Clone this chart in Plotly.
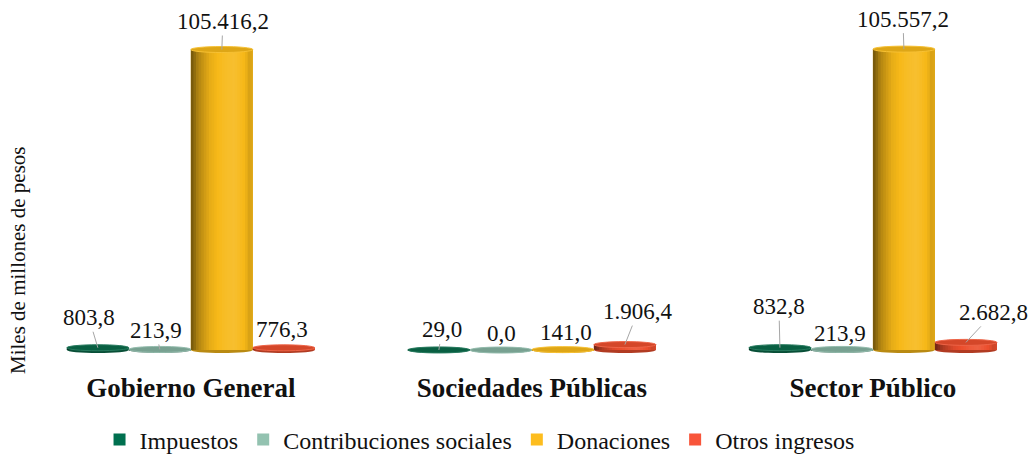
import plotly.graph_objects as go

# ── data ─────────────────────────────────────────────
categories = ["Gobierno General", "Sociedades Públicas", "Sector Público"]
series_names = ["Impuestos", "Contribuciones sociales", "Donaciones", "Otros ingresos"]
impuestos = [803.8, 29.0, 832.8]
contribuciones = [213.9, 0.0, 213.9]
donaciones = [105416.2, 141.0, 105557.2]
otros_ingresos = [776.3, 1906.4, 2682.8]

series_values = [impuestos, contribuciones, donaciones, otros_ingresos]

# ── styling ──────────────────────────────────────────
legend_colors = ["#00704f", "#93c2b0", "#fdbd1e", "#f8553a"]
body_colors = ["#0b6a4a", "#86b3a2", "#f7b919", "#ec4f2e"]
FONT = "Liberation Serif, Times New Roman, serif"

BAR_W = 0.1818          # one cylinder, in category units
N_STRIPS = 24           # vertical strips used to fake the cylinder shading
# (position across the bar, brightness factor)
profile = [(0.0, 0.45), (0.12, 0.72), (0.30, 0.93), (0.55, 1.06),
           (0.70, 1.10), (0.88, 0.98), (0.96, 0.84), (1.0, 0.95)]

# label offsets in px (dx, dy) from the bar top, and whether a leader line shows
label_pos = [
    [(-9, -30, True), (3, -20, True), (-1, -41, True)],
    [(-4, -19, True), (1, -17, False), (-2, -16, False)],
    [(1, -28, True), (3, -17, False), (-1, -30, True)],
    [(-2, -18, False), (13, -33, True), (28, -30, True)],
]


def hex_rgb(h):
    h = h.lstrip("#")
    return tuple(int(h[i:i + 2], 16) for i in (0, 2, 4))


def shade(h, k):
    r, g, b = hex_rgb(h)
    if k <= 1:
        r, g, b = r * k, g * k, b * k
    else:
        t = k - 1
        r, g, b = r + (255 - r) * t, g + (255 - g) * t, b + (255 - b) * t
    return f"rgb({int(r)},{int(g)},{int(b)})"


def factor_at(t):
    for (t0, k0), (t1, k1) in zip(profile, profile[1:]):
        if t0 <= t <= t1:
            return k0 + (k1 - k0) * (t - t0) / (t1 - t0)
    return profile[-1][1]


def es_num(v):
    return f"{v:,.1f}".replace(",", "X").replace(".", ",").replace("X", ".")


x = list(range(len(categories)))
fig = go.Figure()
shapes = []
annotations = []

for i, (name, vals) in enumerate(zip(series_names, series_values)):
    off = -2 * BAR_W + i * BAR_W
    # full-width bar carrying the legend entry
    fig.add_trace(go.Bar(
        x=x, y=vals, name=name, offset=off, width=BAR_W,
        marker=dict(color=legend_colors[i], line=dict(width=0)),
        hoverinfo="skip",
    ))
    # shading strips
    sw = BAR_W / N_STRIPS
    for j in range(N_STRIPS):
        t = (j + 0.5) / N_STRIPS
        fig.add_trace(go.Bar(
            x=x, y=vals, offset=off + j * sw, width=sw * 1.6 if j < N_STRIPS - 1 else sw,
            marker=dict(color=shade(body_colors[i], factor_at(t)), line=dict(width=0)),
            showlegend=False, hoverinfo="skip",
        ))
    for c, v in zip(x, vals):
        x0, x1 = c + off, c + off + BAR_W
        # rounded bottom
        shapes.append(dict(
            type="circle", xref="x", yref="y", x0=x0, x1=x1,
            ysizemode="pixel", yanchor=0, y0=-3, y1=3, layer="below",
            fillcolor=shade(body_colors[i], 0.75), line=dict(width=0),
        ))
        # top face
        shapes.append(dict(
            type="circle", xref="x", yref="y", x0=x0, x1=x1,
            ysizemode="pixel", yanchor=v, y0=-3, y1=3, layer="above",
            fillcolor=shade(body_colors[i], 0.9),
            line=dict(width=1, color=shade(body_colors[i], 1.12)),
        ))
    for k, (c, v) in enumerate(zip(x, vals)):
        dx, dy, lead = label_pos[i][k]
        annotations.append(dict(
            x=c + off + BAR_W / 2, y=v, xref="x", yref="y",
            text=es_num(v), showarrow=True, arrowhead=0, arrowwidth=1,
            arrowcolor="#a6a6a6" if lead else "rgba(0,0,0,0)",
            ax=dx, ay=dy, standoff=0,
            font=dict(family=FONT, size=23, color="#111111"),
        ))

annotations.append(dict(
    text="Miles de millones de pesos", textangle=-90,
    xref="paper", yref="paper", x=-0.033, y=0.275,
    xanchor="center", yanchor="middle",
    showarrow=False, font=dict(family=FONT, size=21, color="#111111"),
))

ymax = max(max(v) for v in series_values)

fig.update_layout(
    width=1034, height=454,
    barmode="overlay",
    paper_bgcolor="white", plot_bgcolor="white",
    margin=dict(l=50, r=10, t=10, b=99, autoexpand=False),
    font=dict(family=FONT, color="#111111"),
    xaxis=dict(
        range=[-0.413, 2.443], tickvals=x, ticktext=categories,
        tickfont=dict(family=FONT, size=27, color="#111111", weight="bold"),
        showgrid=False, zeroline=False, showline=False, ticks="",
        ticklabelstandoff=14, automargin=False,
    ),
    yaxis=dict(range=[-0.0165 * ymax, 1.13 * ymax], visible=False, automargin=False),
    legend=dict(
        orientation="h", x=0.441, xanchor="center", y=-0.246, yanchor="middle",
        font=dict(family=FONT, size=24, color="#111111"),
        itemwidth=30, tracegroupgap=0,
    ),
    shapes=shapes,
    annotations=annotations,
)

fig.write_html("out.html", config={"displayModeBar": False},
               post_script="document.body.style.margin='0';")
